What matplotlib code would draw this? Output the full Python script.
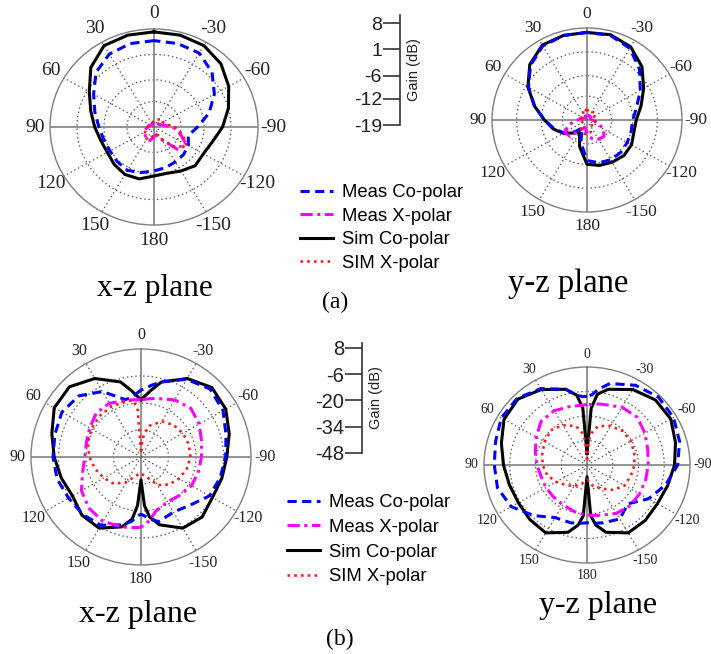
import numpy as np
import matplotlib.pyplot as plt

W, H = 711, 654

# ---- angles (deg, 0 = broadside, positive counter-clockwise) ----
ang_a = [0, 15, 30, 45, 60, 75, 90, 105, 120, 135, 150, 165, 180,
         -165, -150, -135, -120, -105, -90, -75, -60, -45, -30, -15]
ang_b = [0, 4, 8, 15, 30, 45, 60, 75, 90, 105, 120, 135, 150, 165, 172, 176, 180,
         -176, -172, -165, -150, -135, -120, -105, -90, -75, -60, -45, -30, -15, -8, -4]

# ---- (a) x-z plane, gain in dB ----
a_xz_meas_co = [4.8, 4.8, 4.2, 2.3, -0.9, -3.1, -4.7, -5.5, -5.8, -5.5, -5.2, -6.0, -6.9,
                -7.4, -7.9, -8.2, -8.7, -9.8, -7.7, -4.2, -0.9, 2.3, 4.5, 4.8]
a_xz_meas_x = [-17.6, -17.9, -18.2, -18.2, -17.9, -17.6, -17.4, -16.8, -16.3, -15.8, -15.0, -15.2, -16.3,
               -16.8, -15.0, -10.1, -9.3, -12.0, -14.1, -16.8, -17.6, -17.6, -17.4, -17.4]
a_xz_sim_co = [7.2, 7.2, 6.9, 4.2, 0.4, -2.0, -3.6, -4.7, -5.0, -4.4, -3.9, -4.2, -5.5,
               -5.8, -5.0, -3.9, -4.2, -3.3, -1.2, 1.0, 3.4, 5.6, 6.9, 7.2]
a_xz_sim_x = [-17.4, -17.6, -17.9, -17.9, -17.9, -17.6, -17.4, -16.8, -16.3, -15.8, -15.2, -15.8, -16.8,
              -17.1, -15.2, -10.9, -9.3, -11.4, -13.6, -15.8, -16.3, -16.0, -16.6, -17.1]

# ---- (a) y-z plane ----
a_yz_meas_co = [6.7, 6.7, 6.1, 3.7, 0.2, -3.6, -6.9, -9.3, -11.4, -14.1, -16.3, -12.2, -7.1,
                -6.0, -5.5, -5.5, -5.8, -6.0, -6.0, -4.4, -1.5, 2.1, 5.3, 6.7]
a_yz_meas_x = [-17.6, -17.9, -18.2, -18.2, -17.9, -17.4, -16.3, -13.6, -11.7, -12.2, -15.8, -16.8, -15.0,
               -13.3, -12.5, -12.2, -13.6, -15.8, -17.4, -17.9, -17.9, -17.6, -17.6, -17.6]
a_yz_sim_co = [6.7, 6.7, 6.4, 4.0, 0.4, -3.6, -6.9, -9.0, -11.2, -13.6, -14.7, -10.9, -6.0,
               -5.2, -4.7, -4.2, -4.4, -5.2, -5.0, -3.1, -0.4, 3.1, 5.8, 6.9]
a_yz_sim_x = [-16.3, -15.5, -16.8, -17.6, -17.4, -16.8, -17.1, -17.6, -17.4, -16.8, -15.8, -15.0, -14.7,
              -15.2, -16.3, -17.1, -17.4, -16.6, -16.8, -17.4, -16.3, -15.8, -16.3, -15.8]

# ---- (b) x-z plane ----
b_xz_meas_co = [-13.3, -15.0, -16.6, -17.2, -8.8, -3.2, -1.5, -2.6, -3.2, -3.8, -5.4, -6.0, -7.1, -11.6, -14.4, -17.2, -18.3,
                -17.2, -15.5, -13.3, -15.0, -12.7, -7.7, -6.3, -4.9, -3.2, 0.2, 1.8, -1.5, -7.7, -10.5, -12.2]
b_xz_meas_x = [-18.3, -18.3, -18.0, -17.8, -15.8, -15.8, -17.8, -19.2, -19.4, -17.2, -13.0, -10.5, -9.4, -10.5, -11.0, -11.3, -11.6,
               -13.3, -15.0, -18.9, -21.1, -20.0, -18.3, -17.8, -17.2, -16.1, -13.8, -12.2, -13.8, -16.6, -17.5, -18.0]
b_xz_sim_co = [-18.3, -16.1, -13.3, -7.7, -1.0, 3.5, 3.0, -1.0, -3.8, -6.0, -7.7, -5.4, -5.4, -10.5, -15.5, -22.8, -36.2,
               -22.8, -16.6, -11.6, -5.4, -4.0, -6.0, -5.4, -4.3, -1.5, 1.8, 3.0, -1.0, -7.7, -13.3, -16.1]
b_xz_sim_x = [-45.2, -22.8, -18.3, -18.3, -17.8, -18.0, -18.9, -20.0, -21.7, -23.9, -26.2, -28.4, -32.9, -37.9, -39.0, -39.6, -39.6,
              -39.0, -38.5, -37.4, -31.2, -27.8, -25.6, -23.9, -22.8, -22.8, -23.4, -24.5, -26.7, -31.2, -35.7, -39.6]

# ---- (b) y-z plane ----
b_yz_meas_co = [-8.8, -8.8, -7.7, -3.2, 2.4, 5.8, 5.8, 3.5, 2.4, 2.4, -0.4, -7.1, -13.3, -13.8, -14.4, -14.7, -15.0,
                -14.7, -14.4, -13.8, -12.4, -16.6, -9.4, -3.8, 1.3, 4.1, 6.3, 6.9, 4.6, 0.2, -4.3, -7.7]
b_yz_meas_x = [-13.3, -13.8, -13.8, -13.3, -12.2, -12.7, -16.1, -18.9, -20.8, -22.2, -22.2, -22.2, -21.7, -20.6, -20.0, -19.7, -19.4,
               -19.2, -18.9, -18.3, -16.1, -15.0, -15.0, -15.0, -14.7, -13.8, -11.6, -9.4, -9.9, -12.2, -12.7, -13.3]
b_yz_sim_co = [-41.3, -15.5, -7.7, -3.2, 1.8, 5.2, 4.1, 0.2, -2.6, -4.3, -4.9, -4.0, -3.2, -8.2, -13.3, -18.9, -41.3,
               -18.9, -13.3, -8.2, -3.2, -3.2, -3.8, -2.6, -0.4, 1.8, 4.6, 4.6, 1.8, -3.2, -7.1, -15.5]
b_yz_sim_x = [-45.2, -34.0, -29.5, -25.0, -21.7, -20.0, -21.4, -22.8, -23.9, -25.6, -28.7, -31.8, -34.0, -36.8, -38.5, -39.0, -39.6,
              -39.0, -37.9, -35.7, -32.3, -27.8, -24.5, -23.4, -22.2, -21.4, -20.6, -20.6, -22.2, -25.0, -29.5, -34.0]

# gain scales
gain_ticks_a = [8, 1, -6, -12, -19]
gain_ticks_b = [8, -6, -20, -34, -48]

theta_ticks = [0, 30, 60, 90, 120, 150, 180, 210, 240, 270, 300, 330]
theta_labels = ['0', '30', '60', '90', '120', '150', '180', '-150', '-120', '-90', '-60', '-30']

legend_labels = ['Meas Co-polar', 'Meas X-polar', 'Sim Co-polar', 'SIM X-polar']

SERIF = 'Liberation Serif'
SANS = 'Liberation Sans'

fig = plt.figure(figsize=(W / 100, H / 100), dpi=100)


def rect(x0, y0, x1, y1):
    # pixel box (top-left origin) -> figure fraction
    return [x0 / W, 1 - y1 / H, (x1 - x0) / W, (y1 - y0) / H]


def polar_panel(box, ticks, label_size, pad):
    ax = fig.add_axes(rect(*box), projection='polar')
    ax.set_aspect('auto')
    ax.set_theta_zero_location('N')
    ax.set_theta_direction(1)
    rmin, rmax = ticks[-1], ticks[0]
    ax.set_ylim(rmin, rmax)
    ax.grid(False)
    ax.set_yticks([])
    ax.set_xticks(np.radians(theta_ticks))
    ax.set_xticklabels(theta_labels, family=SERIF, fontsize=label_size, color='#222222')
    ax.tick_params(axis='x', pad=pad, length=0)
    ax.spines['polar'].set_color('#7f7f7f')
    ax.spines['polar'].set_linewidth(1.0)
    t = np.linspace(0, 2 * np.pi, 361)
    for r in ticks[1:-1]:
        ax.plot(t, np.full_like(t, r), color='#5a5a5a', lw=0.9, ls=(0, (1.2, 2.2)), zorder=1)
    for a in theta_ticks:
        if a % 90 == 0:
            ax.plot([np.radians(a)] * 2, [rmin, rmax], color='#8a8a8a', lw=1.3, zorder=1)
        else:
            ax.plot([np.radians(a)] * 2, [rmin, rmax], color='#5a5a5a', lw=0.9,
                    ls=(0, (1.2, 2.2)), zorder=1)
    return ax


def draw_series(ax, ang, meas_co, meas_x, sim_co, sim_x, lw):
    th = np.radians(np.append(ang, ang[0]))
    close = lambda v: np.append(v, v[0])
    h3, = ax.plot(th, close(sim_co), color='black', lw=lw, zorder=3)
    h1, = ax.plot(th, close(meas_co), color='#0000ff', lw=lw, ls=(0, (3, 1.8)), zorder=4)
    h2, = ax.plot(th, close(meas_x), color='#ff00ff', lw=lw, ls=(0, (4, 1.5, 1, 1.5)), zorder=4)
    h4, = ax.plot(th, close(sim_x), color='#ff1a1a', lw=lw * 0.85, ls=(0, (1, 1.6)), zorder=5)
    return [h1, h2, h3, h4]


def gain_scale(x, y_top, y_ticks_top, y_ticks_bot, ticks, size):
    # small vertical axis carrying the radial gain scale
    per_db = (y_ticks_bot - y_ticks_top) / (ticks[0] - ticks[-1])
    ax = fig.add_axes(rect(x, y_top, x + 1, y_ticks_bot))
    ax.set_ylim(ticks[-1], ticks[0] + (y_ticks_top - y_top) / per_db)
    ax.set_xticks([])
    for s in ['top', 'bottom', 'right']:
        ax.spines[s].set_visible(False)
    ax.spines['left'].set_color('#333333')
    ax.spines['left'].set_linewidth(1.2)
    ax.set_yticks(ticks)
    ax.set_yticklabels([str(v) for v in ticks], family=SANS, fontsize=size, color='#222222')
    ax.tick_params(axis='y', direction='out', length=12, width=1.2, color='#333333', pad=1)
    ax.yaxis.set_label_position('right')
    ax.set_ylabel('Gain (dB)', family=SANS, fontsize=10.5, color='#222222', labelpad=4,
                  rotation=90)
    ax.patch.set_alpha(0)


# ---- panel (a) ----
ax1 = polar_panel((50, 29, 258, 225), gain_ticks_a, 14, 4)
handles = draw_series(ax1, ang_a, a_xz_meas_co, a_xz_meas_x, a_xz_sim_co, a_xz_sim_x, 2.2)
ax2 = polar_panel((492, 28, 682, 212), gain_ticks_a, 12.5, 3)
draw_series(ax2, ang_a, a_yz_meas_co, a_yz_meas_x, a_yz_sim_co, a_yz_sim_x, 2.2)
gain_scale(400, 15, 23, 125, gain_ticks_a, 14)

# ---- panel (b) ----
ax3 = polar_panel((31, 349, 251, 565), gain_ticks_b, 11.5, 3)
draw_series(ax3, ang_b, b_xz_meas_co, b_xz_meas_x, b_xz_sim_co, b_xz_sim_x, 2.2)
ax4 = polar_panel((484, 367, 690, 563), gain_ticks_b, 10, 2)
draw_series(ax4, ang_b, b_yz_meas_co, b_yz_meas_x, b_yz_sim_co, b_yz_sim_x, 2.2)
gain_scale(362, 343, 348, 453, gain_ticks_b, 14.5)

# legends
fig.legend(handles, legend_labels, loc='upper left', bbox_to_anchor=(300 / W, 1 - 184 / H),
           frameon=False, prop={'family': SANS, 'size': 13.3},
           handlelength=1.8, handletextpad=0.5, labelspacing=0.36,
           borderpad=0, borderaxespad=0)
fig.legend(handles, legend_labels, loc='upper left', bbox_to_anchor=(287 / W, 1 - 494 / H),
           frameon=False, prop={'family': SANS, 'size': 13.3},
           handlelength=1.8, handletextpad=0.5, labelspacing=0.42,
           borderpad=0, borderaxespad=0)

# titles
fig.text(155 / W, 1 - 296 / H, 'x-z plane', family=SERIF, fontsize=22.5, ha='center', va='baseline')
fig.text(568 / W, 1 - 292 / H, 'y-z plane', family=SERIF, fontsize=23.5, ha='center', va='baseline')
fig.text(335 / W, 1 - 308 / H, '(a)', family=SERIF, fontsize=17, ha='center', va='baseline')
fig.text(138 / W, 1 - 622 / H, 'x-z plane', family=SERIF, fontsize=23, ha='center', va='baseline')
fig.text(598 / W, 1 - 613 / H, 'y-z plane', family=SERIF, fontsize=23, ha='center', va='baseline')
fig.text(340 / W, 1 - 645 / H, '(b)', family=SERIF, fontsize=17, ha='center', va='baseline')

fig.savefig('out.png', dpi=100, facecolor='white')
